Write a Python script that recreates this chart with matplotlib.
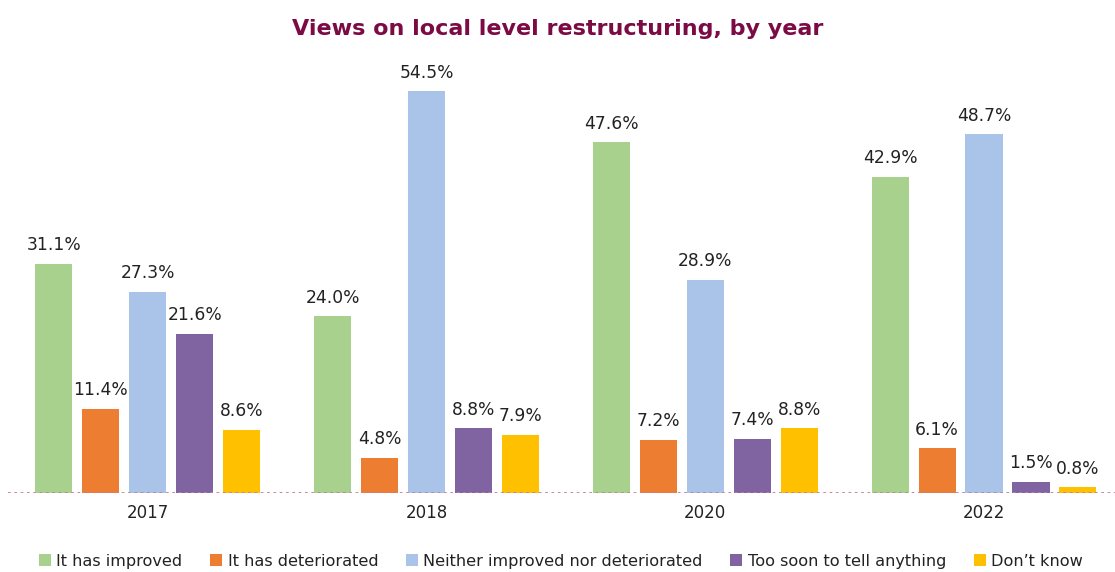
import matplotlib.pyplot as plt
import numpy as np

years = ["2017", "2018", "2020", "2022"]
categories = ["It has improved", "It has deteriorated",
              "Neither improved nor deteriorated", "Too soon to tell anything",
              "Don\u2019t know"]
improved = [31.1, 24.0, 47.6, 42.9]
deteriorated = [11.4, 4.8, 7.2, 6.1]
neither = [27.3, 54.5, 28.9, 48.7]
too_soon = [21.6, 8.8, 7.4, 1.5]
dont_know = [8.6, 7.9, 8.8, 0.8]

series = [improved, deteriorated, neither, too_soon, dont_know]
colors = ["#A9D18E", "#ED7D31", "#A9C4E8", "#8064A2", "#FFC000"]

fig = plt.figure(figsize=(11.15, 5.72), dpi=100)
ax = fig.add_axes([0.0076, 0.138, 0.9924, 0.75])

x = np.arange(len(years))
step = 0.1685
width = 0.133
for i, (vals, col) in enumerate(zip(series, colors)):
    pos = x + (i - 2) * step
    bars = ax.bar(pos, vals, width, color=col, label=categories[i], zorder=2)
    for b, v in zip(bars, vals):
        ax.text(b.get_x() + b.get_width() / 2, v + 1.3, f"{v:.1f}%",
                ha="center", va="bottom", fontsize=12.3, color="#222222")

ax.set_xlim(-0.5, 3.47)
ax.set_ylim(0, 58.2)
ax.axhline(0, color="#C07FA0", linestyle=(0, (1.5, 2)), linewidth=1.3, zorder=3)
for s in ax.spines.values():
    s.set_visible(False)
ax.set_yticks([])
ax.set_xticks(x)
ax.set_xticklabels(years, fontsize=12, color="#222222")
ax.tick_params(axis="x", length=0, pad=8)

fig.text(0.5, 0.95, "Views on local level restructuring, by year",
         ha="center", va="center", fontsize=16, fontweight="bold",
         color="#7B0A45")

fig.legend(loc="center", bbox_to_anchor=(0.503, 0.019), ncol=5, frameon=False,
           fontsize=11.6, handlelength=0.75, handleheight=0.75,
           handletextpad=0.35, columnspacing=1.7, labelcolor="#222222")

fig.savefig("out.png", dpi=100)
